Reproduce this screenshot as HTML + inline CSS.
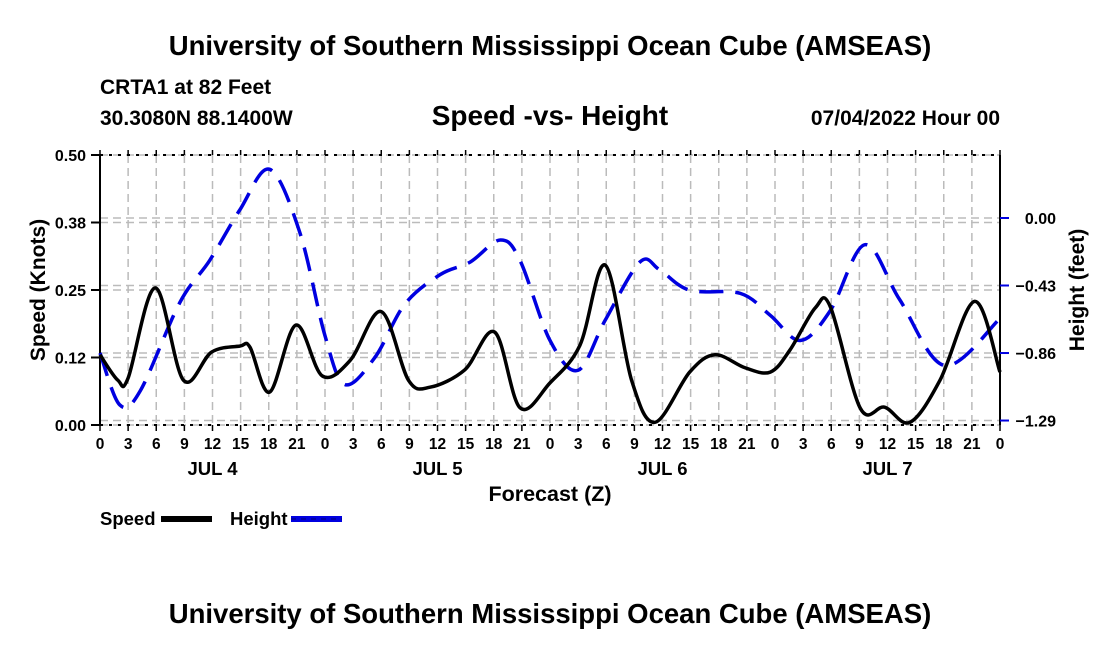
<!DOCTYPE html>
<html><head><meta charset="utf-8"><style>
body{margin:0;background:#fff;width:1100px;height:650px;overflow:hidden;font-family:"Liberation Sans",Arial,sans-serif}
svg text{font-family:"Liberation Sans",Arial,sans-serif;font-weight:bold}
</style></head><body>
<svg id="chart" width="1100" height="650" viewBox="0 0 1100 650" xmlns="http://www.w3.org/2000/svg">
<text x="550" y="55" font-size="27.5" text-anchor="middle">University of Southern Mississippi Ocean Cube (AMSEAS)</text>
<text x="100" y="94" font-size="21">CRTA1 at 82 Feet</text>
<text x="100" y="125" font-size="21">30.3080N  88.1400W</text>
<text x="550" y="125" font-size="28" text-anchor="middle">Speed -vs- Height</text>
<text x="1000" y="125" font-size="21" text-anchor="end">07/04/2022 Hour 00</text>
<g id="grid"></g>
<g id="axes"></g>
<g id="series"></g>
<text transform="translate(45,290) rotate(-90)" font-size="21" text-anchor="middle">Speed (Knots)</text>
<text transform="translate(1084,290) rotate(-90)" font-size="21" text-anchor="middle">Height (feet)</text>
<text x="550" y="501" font-size="21.5" text-anchor="middle">Forecast (Z)</text>
<g>
<text x="100" y="525" font-size="18.5">Speed</text>
<rect x="161" y="516" width="51" height="6" fill="#000"/>
<text x="230" y="525" font-size="18.5">Height</text>
<rect x="291" y="516" width="51" height="6" fill="#0000e0"/>
<line x1="291" y1="519" x2="342" y2="519" stroke="#000" stroke-width="1" stroke-dasharray="5,5" opacity="0.5"/>
</g>
<text x="550" y="623" font-size="27.5" text-anchor="middle">University of Southern Mississippi Ocean Cube (AMSEAS)</text>
</svg>
<script>
const speedHours=[0,1.9,3,5.9,8.9,11.9,14.9,16,18.1,20.9,23.7,26.7,30,32.9,35.2,38.9,42.1,44.8,48,51.2,53.9,56.7,59.2,62.9,65.6,68.8,71.5,73.6,76.3,77.9,81.1,83.7,86.4,89.6,93.3,96];
const speedValues=[0.13,0.083,0.087,0.254,0.083,0.135,0.146,0.144,0.061,0.185,0.091,0.12,0.21,0.083,0.07,0.102,0.172,0.032,0.078,0.148,0.296,0.083,0.005,0.098,0.13,0.106,0.098,0.139,0.217,0.219,0.031,0.033,0.005,0.083,0.229,0.098];
const heightHours=[0,2.1,4.3,8.5,11.7,14.9,18.1,21.3,24,26.1,29.3,32.5,36.3,39.5,42.7,44.8,48,51,53.9,57.6,59.7,62.9,68.3,71.5,74.7,77.9,81.6,85.3,90.1,96];
const heightValues=[-0.86,-1.19,-1.10,-0.54,-0.27,0.05,0.31,-0.09,-0.75,-1.06,-0.89,-0.55,-0.36,-0.28,-0.14,-0.27,-0.78,-0.97,-0.65,-0.28,-0.33,-0.46,-0.48,-0.62,-0.78,-0.59,-0.17,-0.52,-0.94,-0.64];
const speedTicks=[0,0.125,0.25,0.375,0.5];
const speedTickLabels=["0.00","0.12","0.25","0.38","0.50"];
const heightTicks=[0,-0.43,-0.86,-1.29];
const heightTickLabels=["0.00","\u22120.43","\u22120.86","\u22121.29"];
const hourTickLabels=["0","3","6","9","12","15","18","21"];
const dayLabels=["JUL 4","JUL 5","JUL 6","JUL 7"];

const L=100,R=1000,T=155,B=425;
const xS=h=>L+(R-L)*h/96;
const yS=v=>B-(B-T)*v/0.5;
const yH=v=>218-157*v;
const NS="http://www.w3.org/2000/svg";
function mk(tag,attrs,parent){const e=document.createElementNS(NS,tag);for(const k in attrs)e.setAttribute(k,attrs[k]);parent.appendChild(e);return e;}
const grid=document.getElementById('grid'),axes=document.getElementById('axes'),series=document.getElementById('series');
for(let h=3;h<96;h+=3){const l=mk('line',{x1:xS(h),x2:xS(h),y1:T,y2:B,stroke:'#bbb','stroke-width':1.5,'stroke-dasharray':'8,5'},grid);
}
speedTicks.forEach(v=>{const l=mk('line',{x1:L,x2:R,y1:yS(v),y2:yS(v),stroke:'#bbb','stroke-width':1.5,'stroke-dasharray':'8,5'},grid);
});
heightTicks.forEach(v=>{const l=mk('line',{x1:L,x2:R,y1:yH(v),y2:yH(v),stroke:'#bbb','stroke-width':1.5,'stroke-dasharray':'8,5'},grid);
});
let a=mk('line',{x1:L,x2:L,y1:T,y2:B,stroke:'#000','stroke-width':2},axes);
a=mk('line',{x1:R,x2:R,y1:T,y2:B,stroke:'#000','stroke-width':2},axes);
a=mk('line',{x1:L,x2:R,y1:T,y2:T,stroke:'#000','stroke-width':2,'stroke-dasharray':'3,6'},axes);
a=mk('line',{x1:L,x2:R,y1:B,y2:B,stroke:'#000','stroke-width':2,'stroke-dasharray':'3,6'},axes);
for(let h=0;h<=96;h+=3){
 const x=xS(h);
 let t=mk('line',{x1:x,x2:x,y1:B,y2:B+6,stroke:'#000','stroke-width':1.5},axes);
 t=mk('line',{x1:x,x2:x,y1:T,y2:T-5,stroke:'#000','stroke-width':1.5},axes);
 const lb=mk('text',{x:x,y:B+24,'font-size':15.5,'text-anchor':'middle'},axes);lb.textContent=h===96?"0":hourTickLabels[(h%24)/3];
 
}
dayLabels.forEach((d,i)=>{const t=mk('text',{x:xS(i*24+12),y:B+50,'font-size':18.5,'text-anchor':'middle'},axes);t.textContent=d;
});
speedTicks.forEach((v,i)=>{const y=yS(v);
 let t=mk('line',{x1:L-9,x2:L,y1:y,y2:y,stroke:'#000','stroke-width':2},axes);
 const lb=mk('text',{x:L-14,y:y+6,'font-size':16,'text-anchor':'end'},axes);lb.textContent=speedTickLabels[i];
 });
heightTicks.forEach((v,i)=>{const y=yH(v);
 let t=mk('line',{x1:R,x2:R+9,y1:y,y2:y,stroke:'#0000e0','stroke-width':2},axes);
 const lb=mk('text',{x:R+56,y:y+6,'font-size':16,'text-anchor':'end'},axes);lb.textContent=heightTickLabels[i];
 });
function smooth(pts){let d=`M${pts[0][0]},${pts[0][1]}`;
 for(let i=0;i<pts.length-1;i++){const p0=pts[Math.max(0,i-1)],p1=pts[i],p2=pts[i+1],p3=pts[Math.min(pts.length-1,i+2)];
  const c1=[p1[0]+(p2[0]-p0[0])/6,p1[1]+(p2[1]-p0[1])/6],c2=[p2[0]-(p3[0]-p1[0])/6,p2[1]-(p3[1]-p1[1])/6];
  d+=` C${c1[0]},${c1[1]} ${c2[0]},${c2[1]} ${p2[0]},${p2[1]}`;}return d;}
const hp=heightHours.map((h,i)=>[xS(h),yH(heightValues[i])]);
const hl=mk('path',{d:smooth(hp),fill:'none',stroke:'#0000e0','stroke-width':3.5,'stroke-dasharray':'24,12'},series);

const sp=speedHours.map((h,i)=>[xS(h),yS(speedValues[i])]);
const sl=mk('path',{d:smooth(sp),fill:'none',stroke:'#000','stroke-width':3.5,'stroke-linejoin':'round'},series);

</script>
</body></html>
